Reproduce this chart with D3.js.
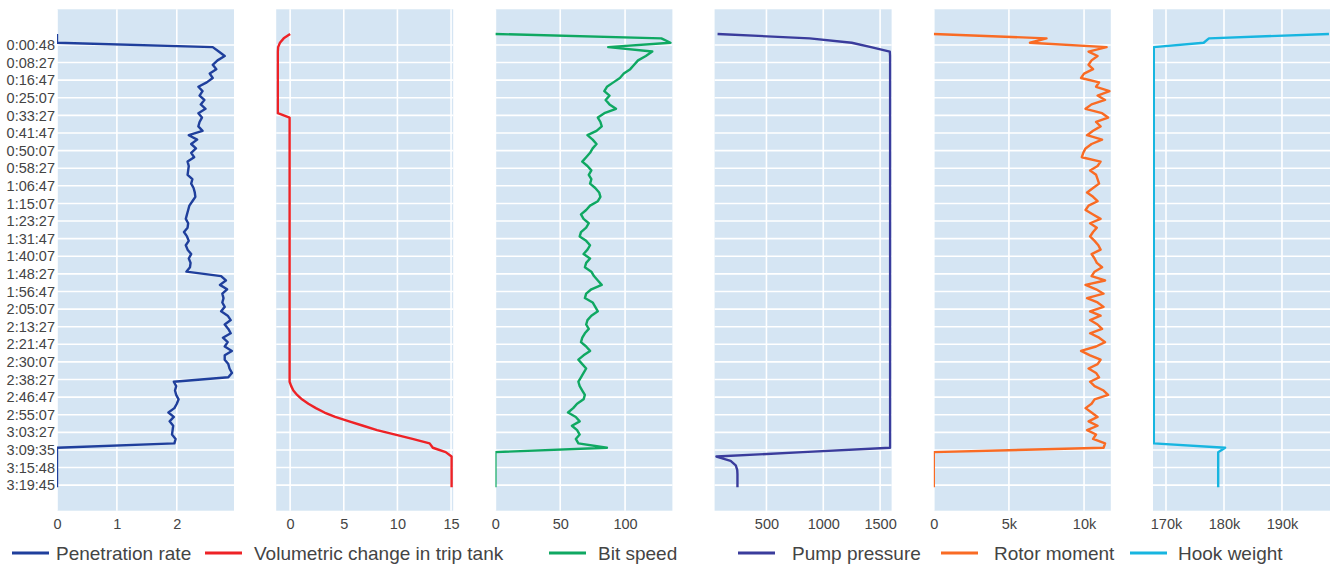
<!DOCTYPE html>
<html>
<head>
<meta charset="utf-8">
<script src="https://cdn.jsdelivr.net/npm/d3@7"></script>
<style>
  body { margin: 0; background: #fff; }
  svg { display: block; font-family: "Liberation Sans", Arial, sans-serif; }
</style>
</head>
<body>
<svg id="chart" width="1330" height="565"></svg>
<script>
// time stamps shown on the shared y axis (one every 4 samples)
const timeLabels = ["0:00:48", "0:08:27", "0:16:47", "0:25:07", "0:33:27", "0:41:47", "0:50:07",
  "0:58:27", "1:06:47", "1:15:07", "1:23:27", "1:31:47", "1:40:07", "1:48:27", "1:56:47",
  "2:05:07", "2:13:27", "2:21:47", "2:30:07", "2:38:27", "2:46:47", "2:55:07", "3:03:27",
  "3:09:35", "3:15:48", "3:19:45"];

// one value per sample (top to bottom)
const penetrationRate = [0, 0, 0, 2.6, 2.7, 2.8, 2.68, 2.6, 2.66, 2.55,
  2.6, 2.5, 2.36, 2.43, 2.38, 2.46, 2.4, 2.48, 2.36, 2.42,
  2.38, 2.36, 2.43, 2.2, 2.34, 2.24, 2.32, 2.24, 2.29, 2.18,
  2.2, 2.19, 2.18, 2.26, 2.24, 2.28, 2.3, 2.31, 2.26, 2.21,
  2.19, 2.17, 2.15, 2.19, 2.18, 2.12, 2.17, 2.2, 2.15, 2.18,
  2.24, 2.2, 2.23, 2.22, 2.16, 2.74, 2.82, 2.72, 2.84, 2.76,
  2.78, 2.76, 2.8, 2.74, 2.85, 2.9, 2.8, 2.86, 2.9, 2.77,
  2.85, 2.8, 2.92, 2.8, 2.8, 2.86, 2.88, 2.92, 2.86, 1.95,
  1.99, 1.97, 1.99, 2.03, 2.0, 1.96, 1.86, 1.95, 1.88, 1.94,
  1.93, 1.92, 1.98, 1.96, 0, 0, 0, 0, 0, 0,
  0, 0, 0, 0];

const tripTankChange = [0, -0.6, -0.95, -1.12, -1.15, -1.15, -1.15, -1.15, -1.15, -1.15,
  -1.15, -1.15, -1.15, -1.15, -1.15, -1.15, -1.15, -1.15, -1.15, -0.05,
  -0.05, -0.05, -0.05, -0.05, -0.05, -0.05, -0.05, -0.05, -0.05, -0.05,
  -0.05, -0.05, -0.05, -0.05, -0.05, -0.05, -0.05, -0.05, -0.05, -0.05,
  -0.05, -0.05, -0.05, -0.05, -0.05, -0.05, -0.05, -0.05, -0.05, -0.05,
  -0.05, -0.05, -0.05, -0.05, -0.05, -0.05, -0.05, -0.05, -0.05, -0.05,
  -0.05, -0.05, -0.05, -0.05, -0.05, -0.05, -0.05, -0.05, -0.05, -0.05,
  -0.05, -0.05, -0.05, -0.05, -0.05, -0.05, -0.05, -0.05, -0.05, -0.05,
  0.1, 0.3, 0.65, 1.1, 1.7, 2.4, 3.2, 4.2, 5.5, 6.8,
  8.1, 9.8, 11.4, 13.0, 13.3, 14.5, 15.05, 15.05, 15.05, 15.05,
  15.05, 15.05, 15.05, 15.05];

const bitSpeed = [0, 128, 135, 87, 121, 116, 110, 107, 104, 99,
  96, 91, 86, 84, 88, 85, 88, 93, 84, 79,
  81, 82, 78, 71, 75, 78, 75, 73, 70, 67,
  71, 74, 72, 74, 73, 77, 80, 81, 79, 73,
  70, 66, 68, 72, 70, 66, 65, 70, 73, 71,
  68, 73, 70, 69, 74, 76, 79, 82, 74, 70,
  69, 75, 77, 79, 74, 71, 70, 72, 69, 67,
  66, 70, 73, 68, 64, 67, 70, 68, 66, 64,
  65, 67, 69, 68, 63, 60, 56, 62, 65, 59,
  63, 65, 62, 64, 86, 0, 0, 0, 0, 0,
  0, 0, 0, 0];

const pumpPressure = [70, 880, 1250, 1420, 1585, 1588, 1588, 1588, 1588, 1588,
  1588, 1588, 1588, 1588, 1588, 1588, 1588, 1588, 1588, 1588,
  1588, 1588, 1588, 1588, 1588, 1588, 1588, 1588, 1588, 1588,
  1588, 1588, 1588, 1588, 1588, 1588, 1588, 1588, 1588, 1588,
  1588, 1588, 1588, 1588, 1588, 1588, 1588, 1588, 1588, 1588,
  1588, 1588, 1588, 1588, 1588, 1588, 1588, 1588, 1588, 1588,
  1588, 1588, 1588, 1588, 1588, 1588, 1588, 1588, 1588, 1588,
  1588, 1588, 1588, 1588, 1588, 1588, 1588, 1588, 1588, 1588,
  1588, 1588, 1588, 1588, 1588, 1588, 1588, 1588, 1588, 1588,
  1588, 1588, 1588, 1588, 1588, 820, 60, 185, 230, 243,
  245, 245, 245, 245];

const rotorMoment = [0, 7500, 6400, 11500, 10300, 10900, 10500, 10300, 10600, 10000,
  9800, 11000, 10800, 11700, 10900, 11400, 10500, 10100, 11200, 11600,
  10800, 11100, 10600, 10200, 11200, 10500, 10100, 9950, 9850, 11100,
  10900, 10400, 10800, 10900, 11000, 10600, 10200, 10600, 10900, 10300,
  10100, 10600, 11100, 10400, 10850, 10600, 10400, 10700, 10950, 11100,
  10500, 10700, 10850, 11200, 10700, 10500, 11400, 10100, 10800, 11300,
  10200, 10900, 11300, 10400, 11100, 10400, 10900, 11200, 10400, 11000,
  11400, 10800, 9800, 10400, 11100, 10900, 10300, 10800, 11000, 10400,
  10700, 11300, 11600, 10700, 10500, 10100, 10500, 10900, 10300, 10900,
  10200, 10800, 10600, 11400, 11300, 0, 0, 0, 0, 0,
  0, 0, 0, 0];

const hookWeight = [198100, 177400, 176500, 167900, 167900, 167900, 167900, 167900, 167900, 167900,
  167900, 167900, 167900, 167900, 167900, 167900, 167900, 167900, 167900, 167900,
  167900, 167900, 167900, 167900, 167900, 167900, 167900, 167900, 167900, 167900,
  167900, 167900, 167900, 167900, 167900, 167900, 167900, 167900, 167900, 167900,
  167900, 167900, 167900, 167900, 167900, 167900, 167900, 167900, 167900, 167900,
  167900, 167900, 167900, 167900, 167900, 167900, 167900, 167900, 167900, 167900,
  167900, 167900, 167900, 167900, 167900, 167900, 167900, 167900, 167900, 167900,
  167900, 167900, 167900, 167900, 167900, 167900, 167900, 167900, 167900, 167900,
  167900, 167900, 167900, 167900, 167900, 167900, 167900, 167900, 167900, 167900,
  167900, 167900, 167900, 167900, 180200, 179000, 179000, 179000, 179000, 179000,
  179000, 179000, 179000, 179000];

const seriesNames = ["Penetration rate", "Volumetric change in trip tank", "Bit speed",
  "Pump pressure", "Rotor moment", "Hook weight"];
const seriesValues = [penetrationRate, tripTankChange, bitSpeed, pumpPressure, rotorMoment, hookWeight];
const xDomains = [[0, 2.955], [-1.3, 15.2], [0, 136.5], [44, 1601], [0, 11780], [167760, 198280]];
const xTickValues = [[0, 1, 2], [0, 5, 10, 15], [0, 50, 100], [500, 1000, 1500],
  [0, 5000, 10000], [170000, 180000, 190000]];

const colors = ["#1f3f9c", "#ee2226", "#0fa862", "#3a3c9c", "#f96b24", "#17b5e0"];
const tickFormats = [d3.format("d"), d3.format("d"), d3.format("d"), d3.format("d"),
  d3.format("~s"), d3.format("~s")];

const svg = d3.select("#chart");
const plotTop = 9.3, plotBottom = 510.7;
const panelWidth = 177, panelStep = 219.2, firstLeft = 57;
const tickFont = 14.5;

// shared index axis
const y = d3.scaleLinear().domain([-5.6, 108.3]).range([plotTop, plotBottom]);
const tickIndex = timeLabels.map((_, k) => 2.5 + 4 * k);

seriesValues.forEach((values, p) => {
  const left = firstLeft + p * panelStep;
  const x = d3.scaleLinear().domain(xDomains[p]).range([left, left + panelWidth]);
  const g = svg.append("g");

  g.append("clipPath").attr("id", "clip" + p)
    .append("rect").attr("x", left).attr("y", plotTop)
    .attr("width", panelWidth).attr("height", plotBottom - plotTop);

  g.append("rect")
    .attr("x", left).attr("y", plotTop)
    .attr("width", panelWidth).attr("height", plotBottom - plotTop)
    .attr("fill", "#d5e5f3");

  // horizontal grid
  g.append("g").selectAll("line")
    .data(tickIndex)
    .join("line")
    .attr("x1", left).attr("x2", left + panelWidth)
    .attr("y1", d => y(d)).attr("y2", d => y(d))
    .attr("stroke", "#fff").attr("stroke-width", 1.6);

  // vertical grid
  g.append("g").selectAll("line")
    .data(xTickValues[p])
    .join("line")
    .attr("x1", d => x(d)).attr("x2", d => x(d))
    .attr("y1", plotTop).attr("y2", plotBottom)
    .attr("stroke", "#fff").attr("stroke-width", 1.6);

  // x axis labels
  const ax = g.append("g")
    .attr("transform", `translate(0, ${plotBottom + 1})`)
    .call(d3.axisBottom(x).tickValues(xTickValues[p]).tickFormat(tickFormats[p]).tickSize(0).tickPadding(7));
  ax.select(".domain").remove();
  ax.selectAll("text")
    .attr("font-family", '"Liberation Sans", Arial, sans-serif')
    .attr("font-size", tickFont).attr("fill", "#444");

  const line = d3.line()
    .x(d => x(d))
    .y((d, i) => y(i));

  g.append("path")
    .datum(values)
    .attr("clip-path", `url(#clip${p})`)
    .attr("fill", "none")
    .attr("stroke", colors[p])
    .attr("stroke-width", 2.4)
    .attr("stroke-linejoin", "round")
    .attr("d", line);
});

// y axis labels
const ay = svg.append("g")
  .attr("transform", `translate(${firstLeft - 2}, 0)`)
  .call(d3.axisLeft(y).tickValues(tickIndex).tickFormat((d, k) => timeLabels[k]).tickSize(0).tickPadding(0));
ay.select(".domain").remove();
ay.selectAll("text")
  .attr("font-family", '"Liberation Sans", Arial, sans-serif')
  .attr("font-size", tickFont).attr("fill", "#444");

// legend
const legendLineX = [12, 205, 549, 738, 941, 1130];
const legendTextX = [56, 254, 598, 792, 994, 1178];
const legend = svg.append("g");
seriesNames.forEach((name, p) => {
  legend.append("line")
    .attr("x1", legendLineX[p]).attr("x2", legendLineX[p] + 37)
    .attr("y1", 553).attr("y2", 553)
    .attr("stroke", colors[p]).attr("stroke-width", 3);
  legend.append("text")
    .attr("x", legendTextX[p])
    .attr("y", 559.5)
    .attr("font-size", 19)
    .attr("fill", "#444")
    .text(name);
});
</script>
</body>
</html>
